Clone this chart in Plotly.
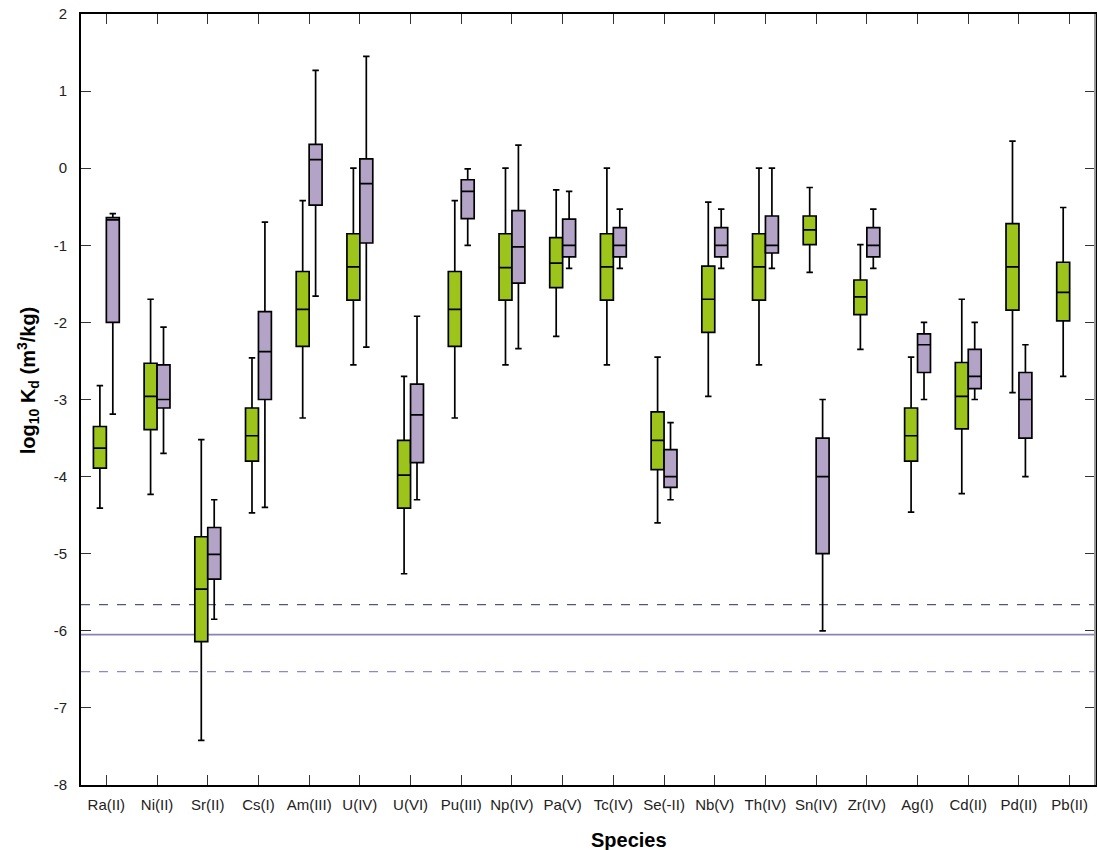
import plotly.graph_objects as go

species = ["Ra(II)", "Ni(II)", "Sr(II)", "Cs(I)", "Am(III)", "U(IV)", "U(VI)", "Pu(III)",
           "Np(IV)", "Pa(V)", "Tc(IV)", "Se(-II)", "Nb(V)", "Th(IV)", "Sn(IV)", "Zr(IV)",
           "Ag(I)", "Cd(II)", "Pd(II)", "Pb(II)"]

# Green series (all 20 species)
g_upper = [-2.82, -1.70, -3.52, -2.46, -0.42, 0.00, -2.70, -0.42, 0.00, -0.28, 0.00, -2.45,
           -0.44, 0.00, -0.25, -0.99, -2.45, -1.70, 0.35, -0.51]
g_q3 = [-3.35, -2.53, -4.78, -3.11, -1.34, -0.85, -3.53, -1.34, -0.85, -0.90, -0.85, -3.16,
        -1.27, -0.85, -0.62, -1.45, -3.11, -2.52, -0.72, -1.22]
g_med = [-3.63, -2.96, -5.46, -3.47, -1.83, -1.28, -3.98, -1.83, -1.29, -1.23, -1.28, -3.53,
         -1.70, -1.28, -0.80, -1.67, -3.47, -2.96, -1.28, -1.61]
g_q1 = [-3.89, -3.39, -6.14, -3.80, -2.31, -1.71, -4.41, -2.31, -1.71, -1.55, -1.71, -3.91,
        -2.13, -1.71, -0.99, -1.90, -3.80, -3.38, -1.84, -1.98]
g_lower = [-4.41, -4.23, -7.42, -4.47, -3.24, -2.55, -5.26, -3.24, -2.55, -2.18, -2.55, -4.60,
           -2.96, -2.55, -1.35, -2.35, -4.46, -4.22, -2.91, -2.70]

# Purple series (no Pb(II))
p_species = species[:19]
p_upper = [-0.59, -2.06, -4.30, -0.70, 1.27, 1.45, -1.92, -0.01, 0.30, -0.30, -0.53, -3.30,
           -0.53, 0.00, -3.00, -0.53, -2.00, -2.00, -2.29]
p_q3 = [-0.64, -2.55, -4.66, -1.86, 0.31, 0.12, -2.80, -0.15, -0.55, -0.66, -0.77, -3.65,
        -0.77, -0.62, -3.50, -0.77, -2.15, -2.35, -2.65]
p_med = [-0.67, -3.00, -5.01, -2.38, 0.11, -0.20, -3.20, -0.30, -1.02, -1.00, -1.00, -4.00,
         -1.00, -1.00, -4.00, -1.00, -2.29, -2.70, -3.00]
p_q1 = [-2.00, -3.11, -5.33, -3.00, -0.48, -0.97, -3.82, -0.655, -1.49, -1.15, -1.15, -4.14,
        -1.15, -1.10, -5.00, -1.15, -2.65, -2.86, -3.50]
p_lower = [-3.19, -3.70, -5.85, -4.40, -1.66, -2.32, -4.30, -1.00, -2.34, -1.30, -1.30, -4.30,
           -1.30, -1.30, -6.00, -1.30, -3.00, -3.00, -4.00]

# Reference lines
ref_line = -6.05
ref_upper = -5.66
ref_lower = -6.53

y_ticks = [-8, -7, -6, -5, -4, -3, -2, -1, 0, 1, 2]
y_ticktext = [str(v) for v in y_ticks]

GREEN = "#9DC41B"
PURPLE = "#B2A3C7"
FONT = "Liberation Sans, Arial, sans-serif"

fig = go.Figure()
fig.add_trace(go.Box(
    x=species, q1=g_q1, median=g_med, q3=g_q3, lowerfence=g_lower, upperfence=g_upper,
    fillcolor=GREEN, line=dict(color="black", width=1.7), whiskerwidth=0.5,
    boxpoints=False, name="green", showlegend=False))
fig.add_trace(go.Box(
    x=p_species, q1=p_q1, median=p_med, q3=p_q3, lowerfence=p_lower, upperfence=p_upper,
    fillcolor=PURPLE, line=dict(color="black", width=1.7), whiskerwidth=0.5,
    boxpoints=False, name="purple", showlegend=False))

shapes = [
    dict(type="line", xref="paper", yref="y", x0=0, x1=1, y0=ref_upper, y1=ref_upper,
         line=dict(color="#54547E", width=1.3, dash="dash"), layer="below"),
    dict(type="line", xref="paper", yref="y", x0=0, x1=1, y0=ref_line, y1=ref_line,
         line=dict(color="#8A84B6", width=1.6), layer="below"),
    dict(type="line", xref="paper", yref="y", x0=0, x1=1, y0=ref_lower, y1=ref_lower,
         line=dict(color="#8E88C6", width=1.3, dash="dash"), layer="below"),
    # grey right border as in the reference
    dict(type="line", xref="paper", yref="paper", x0=1, x1=1, y0=0, y1=1,
         line=dict(color="#9A9A9A", width=2), layer="above"),
]

fig.update_layout(
    width=1098, height=850,
    margin=dict(l=81, r=1, t=14, b=65),
    paper_bgcolor="white", plot_bgcolor="white",
    boxmode="group", boxgap=0.49, boxgroupgap=0.0,
    font=dict(family=FONT, size=15, color="#222"),
    shapes=shapes,
    xaxis=dict(
        categoryorder="array", categoryarray=species, range=[-0.5, 19.5],
        showline=True, linecolor="black", linewidth=2, mirror="ticks",
        ticks="inside", ticklen=10, tickwidth=1.3, tickcolor="#333",
        showgrid=False, zeroline=False, ticklabelstandoff=5,
        tickfont=dict(family=FONT, size=15, color="#222"),
    ),
    yaxis=dict(
        range=[-8, 2], tickvals=y_ticks, ticktext=y_ticktext,
        showline=True, linecolor="black", linewidth=2, mirror="ticks",
        ticks="inside", ticklen=10, tickwidth=1.3, tickcolor="#333",
        showgrid=False, zeroline=False, ticklabelstandoff=9,
        tickfont=dict(family=FONT, size=15, color="#222"),
    ),
    annotations=[
        dict(text="<b>Species</b>", xref="paper", yref="paper", x=0.54, y=0,
             yshift=-55, xanchor="center", yanchor="middle", showarrow=False,
             font=dict(family=FONT, size=20, color="black")),
        dict(text="<b>log<sub>10</sub> K<sub>d</sub> (m<sup>3</sup>/kg)</b>", xref="paper",
             yref="paper", x=0, xshift=-53, y=0.525, xanchor="center", yanchor="middle",
             textangle=-90, showarrow=False,
             font=dict(family=FONT, size=20, color="black")),
    ],
)

fig.write_html("out.html")
